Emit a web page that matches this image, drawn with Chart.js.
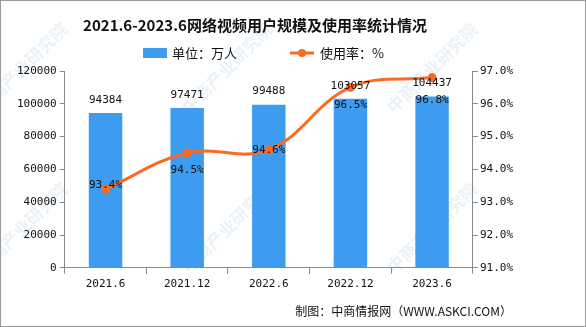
<!DOCTYPE html>
<html>
<head>
<meta charset="utf-8">
<script src="https://cdn.jsdelivr.net/npm/chart.js@4"></script>
<style>
  body { margin: 0; background: #fff; }
  #wrap { width: 586px; height: 327px; }
</style>
</head>
<body>
<div id="wrap"><canvas id="myChart" width="586" height="327"></canvas></div>
<script>
const categories = ['2021.6', '2021.12', '2022.6', '2022.12', '2023.6'];
const users = [94384, 97471, 99488, 103057, 104437];
const rate = [93.4, 94.5, 94.6, 96.5, 96.8];
const userTicks = [0, 20000, 40000, 60000, 80000, 100000, 120000];
const rateTicks = [91, 92, 93, 94, 95, 96, 97];

const BLUE = '#3d9cf0';
const ORANGE = '#fb6a22';
const MONO = '"DejaVu Sans Mono", monospace';
const CJK = '"Noto Sans CJK SC", sans-serif';

// label offsets for the rate labels (style only)
const rateLabelDy = [-4, 17, 0, 18, 23];

const decor = {
  id: 'decor',
  beforeDraw(chart) {
    const ctx = chart.ctx;
    ctx.save();
    ctx.fillStyle = '#fff';
    ctx.fillRect(0, 0, chart.width, chart.height);
    // watermark
    ctx.font = 'bold 17px ' + CJK;
    ctx.fillStyle = 'rgba(170, 200, 225, 0.25)';
    ctx.textAlign = 'left';
    ctx.textBaseline = 'middle';
    for (let gx = -20; gx < 600; gx += 205) {
      for (let gy = 0; gy < 420; gy += 160) {
        ctx.save();
        ctx.translate(gx, gy + 110);
        ctx.rotate(-Math.PI / 4);
        ctx.fillText('中商产业研究院', 0, 0);
        ctx.restore();
      }
    }
    ctx.restore();
  },
  afterDraw(chart) {
    const ctx = chart.ctx;
    ctx.save();
    // title
    ctx.fillStyle = '#111';
    ctx.font = 'bold 15px ' + CJK;
    ctx.textAlign = 'center';
    ctx.textBaseline = 'middle';
    ctx.fillText('2021.6-2023.6网络视频用户规模及使用率统计情况', 255, 25);

    // legend
    ctx.font = '13px ' + CJK;
    ctx.textAlign = 'left';
    ctx.fillStyle = BLUE;
    ctx.fillRect(143, 48, 24, 10);
    ctx.fillStyle = '#111';
    ctx.fillText('单位：万人', 172, 53);
    ctx.strokeStyle = ORANGE;
    ctx.lineWidth = 3;
    ctx.beginPath();
    ctx.moveTo(290, 53);
    ctx.lineTo(314, 53);
    ctx.stroke();
    ctx.fillStyle = ORANGE;
    ctx.beginPath();
    ctx.arc(302, 53, 4, 0, Math.PI * 2);
    ctx.fill();
    ctx.fillStyle = '#111';
    ctx.fillText('使用率：%', 320, 53);

    // value labels
    ctx.font = '11px ' + MONO;
    ctx.textAlign = 'center';
    const barMeta = chart.getDatasetMeta(0);
    barMeta.data.forEach((bar, i) => {
      ctx.fillText(String(users[i]), bar.x, bar.y - 13);
    });
    const lineMeta = chart.getDatasetMeta(1);
    lineMeta.data.forEach((pt, i) => {
      ctx.fillText(rate[i].toFixed(1) + '%', pt.x, pt.y + rateLabelDy[i]);
    });

    // footer
    ctx.font = '12px ' + CJK;
    ctx.textAlign = 'right';
    ctx.fillText('制图：中商情报网（WWW.ASKCI.COM）', 512, 311);

    // frame
    ctx.strokeStyle = '#9a9a9a';
    ctx.lineWidth = 1;
    ctx.strokeRect(0.5, 0.5, chart.width - 1, chart.height - 1);
    ctx.restore();
  }
};

const config = {
  data: {
    labels: categories,
    datasets: [{
      type: 'bar',
      label: '单位：万人',
      data: users,
      backgroundColor: BLUE,
      yAxisID: 'y',
      barPercentage: 0.82,
      categoryPercentage: 0.5,
      order: 2
    }, {
      type: 'line',
      label: '使用率：%',
      data: rate,
      borderColor: ORANGE,
      backgroundColor: ORANGE,
      borderWidth: 3,
      pointRadius: 4.5,
      pointBackgroundColor: ORANGE,
      pointBorderWidth: 0,
      tension: 0.4,
      yAxisID: 'y1',
      order: 1
    }]
  },
  options: {
    responsive: false,
    animation: false,
    layout: {
      padding: { top: 71, bottom: 32, left: 14, right: 71 }
    },
    plugins: {
      legend: { display: false },
      title: { display: false },
      tooltip: { enabled: false }
    },
    scales: {
      x: {
        grid: { display: true, offset: true, drawOnChartArea: false, tickLength: 6, color: '#888' },
        border: { color: '#888' },
        ticks: { color: '#111', font: { family: MONO, size: 11 }, padding: 4 }
      },
      y: {
        position: 'left',
        min: 0,
        max: 120000,
        afterBuildTicks: axis => { axis.ticks = userTicks.map(v => ({ value: v })); },
        grid: { drawOnChartArea: false, tickLength: 5, color: '#888' },
        border: { color: '#888' },
        ticks: { color: '#111', font: { family: MONO, size: 11 }, padding: 3, callback: v => String(v) }
      },
      y1: {
        position: 'right',
        min: 91,
        max: 97,
        afterBuildTicks: axis => { axis.ticks = rateTicks.map(v => ({ value: v })); },
        grid: { drawOnChartArea: false, tickLength: 5, color: '#888' },
        border: { color: '#888' },
        ticks: {
          color: '#111',
          font: { family: MONO, size: 11 },
          padding: 2,
          callback: v => v.toFixed(1) + '%'
        }
      }
    }
  },
  plugins: [decor]
};

const ctx = document.getElementById('myChart');
const myChart = new Chart(ctx, config);
</script>
</body>
</html>
